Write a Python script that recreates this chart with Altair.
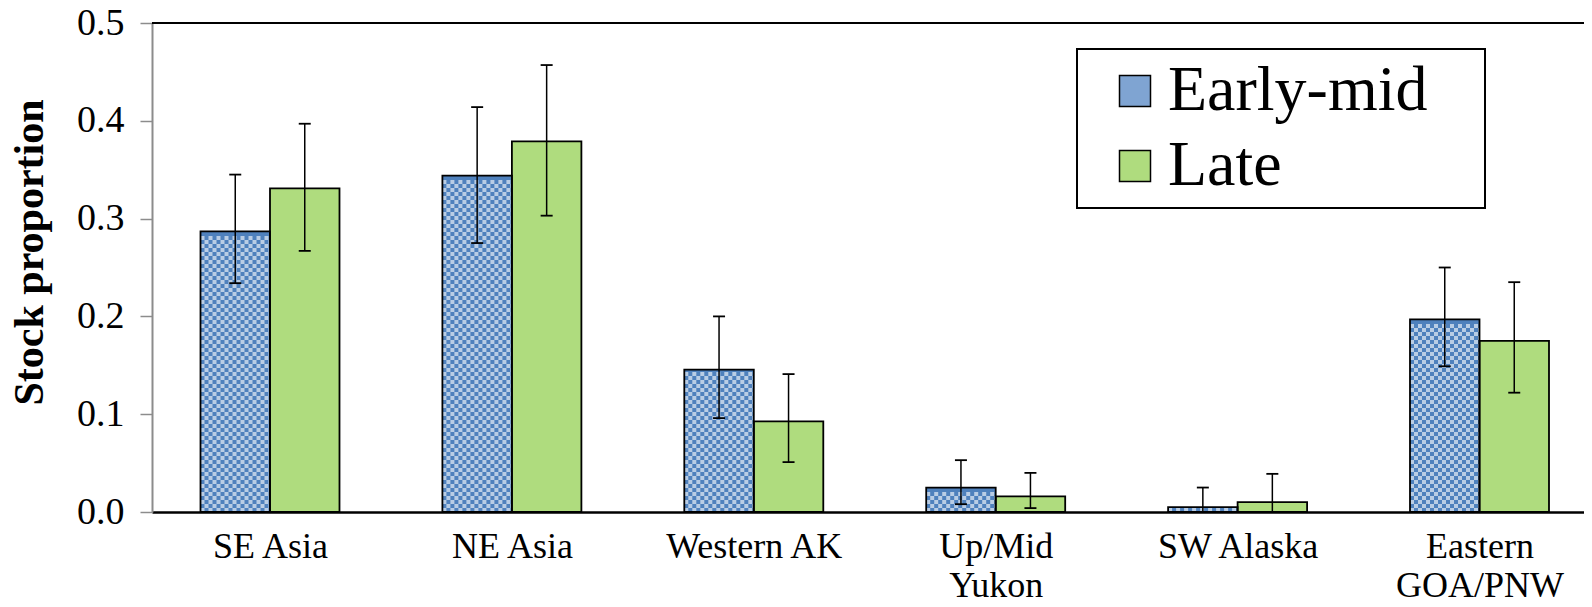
import json
import altair as alt
import pandas as pd

# ---------------- data ----------------
regions = ["SE Asia", "NE Asia", "Western AK", "Up/Mid Yukon", "SW Alaska", "Eastern GOA/PNW"]
label_lines = [["SE Asia"], ["NE Asia"], ["Western AK"], ["Up/Mid", "Yukon"],
               ["SW Alaska"], ["Eastern", "GOA/PNW"]]
series = ["Early-mid", "Late"]
early = [0.287, 0.344, 0.1456, 0.025, 0.005, 0.197]
early_lo = [0.234, 0.275, 0.096, 0.008, 0.0, 0.149]
early_hi = [0.345, 0.414, 0.200, 0.053, 0.025, 0.250]
late = [0.331, 0.379, 0.0927, 0.016, 0.010, 0.175]
late_lo = [0.267, 0.303, 0.051, 0.004, 0.0, 0.122]
late_hi = [0.397, 0.457, 0.141, 0.040, 0.039, 0.235]
y_ticks = [0.0, 0.1, 0.2, 0.3, 0.4, 0.5]

# ---------------- styling / layout constants ----------------
PLOT_W, PLOT_H = 1432, 489
STEP_PX = 241.9                     # pixels per category
LEFT_U = -0.4878                    # domain start (category units)
BAR_U = 0.2873                      # one bar width in category units
X_DOM = [LEFT_U, LEFT_U + PLOT_W / STEP_PX]
Y_DOM = [0.0, 0.5]
CELL_PX = 4                         # checker cell size in pixels
cell_u = CELL_PX * (Y_DOM[1] - Y_DOM[0]) / PLOT_H

BLUE_DARK = "#4F81BD"
BLUE_LIGHT = "#B9CDE5"
BLUE_AVG = "#7FA4D2"
GREEN = "#AFDC7E"
SERIF = "Liberation Serif, Times New Roman, serif"

rows = []
for i, r in enumerate(regions):
    for s, v, lo, hi in ((series[0], early[i], early_lo[i], early_hi[i]),
                         (series[1], late[i], late_lo[i], late_hi[i])):
        x0 = i - BAR_U if s == series[0] else i
        rows.append({"region": r, "series": s, "value": v, "lo": lo, "hi": hi,
                     "x0": x0, "x1": x0 + BAR_U, "xc": x0 + BAR_U / 2})
df = pd.DataFrame(rows)
df_early = df[df.series == series[0]]

# checker texture rows derived from the early-mid values
tex = []
for _, row in df_early.iterrows():
    k = 0
    while (k + 1) * cell_u <= row["value"] - 0.0008:
        tex.append({"x0": row["x0"], "x1": row["x1"], "y": (k + 0.5) * cell_u, "odd": k % 2})
        k += 1
tex = pd.DataFrame(tex)

x_scale = alt.Scale(domain=X_DOM, nice=False, zero=False)
y_scale = alt.Scale(domain=Y_DOM, nice=False)

label_expr = json.dumps(label_lines) + "[datum.value]"

bars = alt.Chart(df).mark_rect(strokeWidth=0).encode(
    x=alt.X("x0:Q", scale=x_scale,
            axis=alt.Axis(values=list(range(len(regions))), labelExpr=label_expr,
                          ticks=False, grid=False, domainColor="black", domainWidth=2.5,
                          labelFont=SERIF, labelFontSize=36, labelColor="black",
                          labelPadding=17, labelLineHeight=39, labelOverlap=False,
                          labelFlush=False, title=None)),
    x2="x1:Q",
    y=alt.Y("value:Q", scale=y_scale,
            axis=alt.Axis(values=y_ticks, format=".1f", grid=False,
                          domainColor="#8C8C8C", domainWidth=2, tickColor="#8C8C8C",
                          tickWidth=1.5, tickSize=12, labelFont=SERIF, labelFontSize=38,
                          labelColor="black", labelPadding=16,
                          title="Stock proportion", titleFont=SERIF, titleFontSize=42,
                          titleFontWeight="bold", titleColor="black", titleAngle=270,
                          titleAlign="center", titleBaseline="middle",
                          titleX=-123, titleY=229)),
    y2=alt.datum(0),
    color=alt.Color("series:N", scale=alt.Scale(domain=series, range=[BLUE_AVG, GREEN]),
                    legend=alt.Legend(title=None, orient="none", legendX=925, legendY=26,
                                      symbolType="square", symbolSize=961,
                                      symbolStrokeColor="black", symbolStrokeWidth=1.5,
                                      symbolOpacity=1, labelFont=SERIF, labelFontSize=64,
                                      labelColor="black", labelOffset=1, labelLimit=500,
                                      rowPadding=11, padding=10, symbolOffset=16,
                                      strokeColor="black", fillColor="white",
                                      labelExpr="datum.label + '\u2800'")),
)

dark = alt.Chart(df_early).mark_rect(color=BLUE_DARK, strokeWidth=0).encode(
    x=alt.X("x0:Q", scale=x_scale), x2="x1:Q",
    y=alt.Y("value:Q", scale=y_scale), y2=alt.datum(0),
)

tex_even = alt.Chart(tex).transform_filter("datum.odd == 0").mark_rule(
    color=BLUE_LIGHT, strokeWidth=CELL_PX, strokeDash=[CELL_PX, CELL_PX], strokeCap="butt"
).encode(x=alt.X("x0:Q", scale=x_scale), x2="x1:Q", y=alt.Y("y:Q", scale=y_scale))

tex_odd = alt.Chart(tex).transform_filter("datum.odd == 1").mark_rule(
    color=BLUE_LIGHT, strokeWidth=CELL_PX, strokeDash=[CELL_PX, CELL_PX],
    strokeDashOffset=CELL_PX, strokeCap="butt"
).encode(x=alt.X("x0:Q", scale=x_scale), x2="x1:Q", y=alt.Y("y:Q", scale=y_scale))

outline = alt.Chart(df).mark_rect(fillOpacity=0, stroke="black", strokeWidth=1.8).encode(
    x=alt.X("x0:Q", scale=x_scale), x2="x1:Q",
    y=alt.Y("value:Q", scale=y_scale), y2=alt.datum(0),
)

err = alt.Chart(df).mark_rule(color="black", strokeWidth=1.5).encode(
    x=alt.X("xc:Q", scale=x_scale), y=alt.Y("lo:Q", scale=y_scale), y2="hi:Q"
)
cap_lo = alt.Chart(df).mark_tick(orient="horizontal", size=12, thickness=1.8,
                                 color="black", opacity=1).encode(
    x=alt.X("xc:Q", scale=x_scale), y=alt.Y("lo:Q", scale=y_scale))
cap_hi = alt.Chart(df).mark_tick(orient="horizontal", size=12, thickness=1.8,
                                 color="black", opacity=1).encode(
    x=alt.X("xc:Q", scale=x_scale), y=alt.Y("hi:Q", scale=y_scale))

top = alt.Chart(pd.DataFrame({"top": [y_ticks[-1]]})).mark_rule(
    color="black", strokeWidth=2).encode(y=alt.Y("top:Q", scale=y_scale))

chart = alt.layer(bars, dark, tex_even, tex_odd, outline, err, cap_lo, cap_hi, top).properties(
    width=PLOT_W, height=PLOT_H,
    autosize=alt.AutoSizeParams(type="none"),
    padding={"left": 144, "top": 15, "right": 0, "bottom": 86},
    background="white",
).configure_view(stroke=None).configure_legend(strokeWidth=2)

chart.save("out.html", embed_options={"renderer": "svg", "actions": False})
